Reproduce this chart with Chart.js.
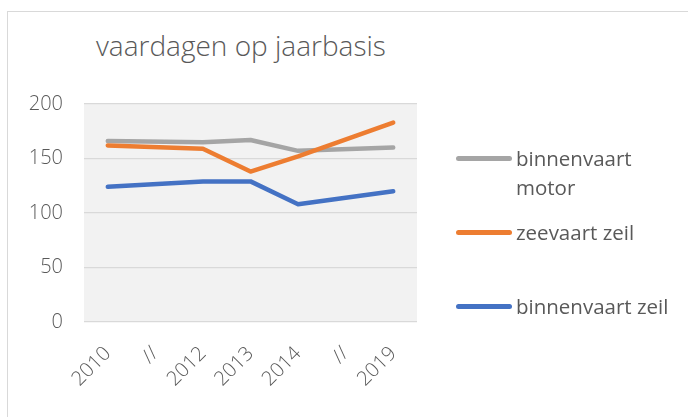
<!DOCTYPE html>
<html>
<head>
<meta charset="utf-8">
<script src="https://cdn.jsdelivr.net/npm/chart.js@4.4.1/dist/chart.umd.min.js"></script>
<style>
    body { margin: 0; background: #fff; font-family: "Open Sans", sans-serif; color: #595959; }
    #wrap { position: relative; width: 688px; height: 417px; overflow: hidden; }
    #kader { position: absolute; left: 7px; top: 11px; width: 720px; height: 420px; border: 1px solid #d9d9d9; box-sizing: border-box; }
    #titel { position: absolute; left: 96px; top: 26px; font-size: 28px; font-weight: 300; white-space: nowrap; }
    canvas { position: absolute; left: 0; top: 0; }
    .leg { position: absolute; left: 456px; display: flex; align-items: flex-start; }
    .leg .lijn { width: 56px; height: 5px; border-radius: 3px; margin-top: 12px; margin-right: 4px; flex: none; }
    .leg .tekst { font-size: 20.5px; line-height: 29px; max-width: 165px; }
</style>
</head>
<body>
<div id="wrap">
    <div id="kader"></div>
    <div id="titel">vaardagen op jaarbasis</div>
    <canvas id="grafiek" width="688" height="417"></canvas>
    <div id="legenda"></div>
</div>
<script>
// DATOS
const jaren = ['2010', '//', '2012', '2013', '2014', '//', '2019'];
const binnenvaartMotor = [166, null, 165, 167, 157, null, 160];
const zeevaartZeil = [162, null, 159, 138, 152, null, 183];
const binnenvaartZeil = [124, null, 129, 129, 108, null, 120];
const yTicks = [0, 50, 100, 150, 200];

const series = [
    { label: 'binnenvaart motor', data: binnenvaartMotor, kleur: '#a5a5a5', order: 1 },
    { label: 'zeevaart zeil', data: zeevaartZeil, kleur: '#ed7d31', order: 0 },
    { label: 'binnenvaart zeil', data: binnenvaartZeil, kleur: '#4472c4', order: 2 }
];

// Fondo gris del area del grafico
const fondoPlugin = {
    id: 'fondo',
    beforeDraw(chart) {
        const { ctx, chartArea } = chart;
        ctx.save();
        ctx.fillStyle = '#f2f2f2';
        ctx.fillRect(chartArea.left, chartArea.top, chartArea.right - chartArea.left, chartArea.bottom - chartArea.top);
        ctx.restore();
    }
};

const grafico = new Chart(document.getElementById('grafiek').getContext('2d'), {
    type: 'line',
    data: {
        labels: jaren,
        datasets: series.map(s => ({
            label: s.label,
            data: s.data,
            borderColor: s.kleur,
            backgroundColor: s.kleur,
            borderWidth: 4.5,
            borderCapStyle: 'round',
            borderJoinStyle: 'round',
            pointRadius: 0,
            tension: 0,
            spanGaps: true,
            order: s.order
        }))
    },
    options: {
        responsive: false,
        animation: false,
        layout: { padding: { left: 0, right: 271, top: 104, bottom: 0 } },
        plugins: {
            legend: { display: false },
            title: { display: false },
            tooltip: { enabled: false }
        },
        scales: {
            x: {
                offset: true,
                grid: { display: false },
                border: { display: false },
                afterFit: s => { s.height = 95; },
                ticks: {
                    color: '#595959',
                    font: { family: 'Open Sans', size: 20, weight: 300 },
                    maxRotation: 45,
                    minRotation: 45,
                    padding: 12,
                    autoSkip: false
                }
            },
            y: {
                min: 0,
                max: 200,
                afterFit: s => { s.width = 84; },
                afterBuildTicks: s => { s.ticks = yTicks.map(v => ({ value: v })); },
                grid: { color: '#d9d9d9', lineWidth: 1.3, drawTicks: false },
                border: { display: false },
                ticks: {
                    color: '#595959',
                    font: { family: 'Open Sans', size: 20, weight: 300 },
                    padding: 21
                }
            }
        }
    },
    plugins: [fondoPlugin]
});

// Leyenda en HTML
const legenda = document.getElementById('legenda');
series.forEach((s, i) => {
    const item = document.createElement('div');
    item.className = 'leg';
    item.style.top = (144 + i * 74) + 'px';
    item.innerHTML = `<div class="lijn" style="background:${s.kleur}"></div><div class="tekst">${s.label}</div>`;
    legenda.appendChild(item);
});
</script>
</body>
</html>
